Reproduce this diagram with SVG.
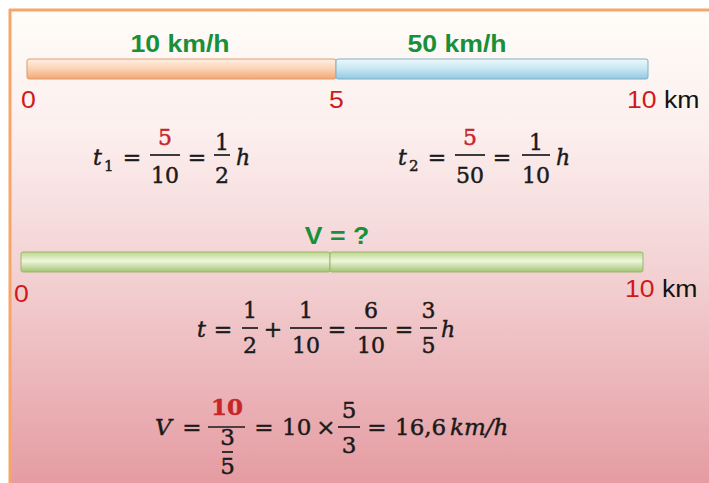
<svg xmlns="http://www.w3.org/2000/svg" width="709" height="483" viewBox="0 0 709 483">
<defs>
<linearGradient id="bg" x1="0" y1="0" x2="0" y2="1">
<stop offset="0" stop-color="#fffdf9"/>
<stop offset="0.25" stop-color="#fcefee"/>
<stop offset="0.55" stop-color="#f3d1d3"/>
<stop offset="1" stop-color="#e49aa0"/>
</linearGradient>
<linearGradient id="gOrange" x1="0" y1="0" x2="0" y2="1">
<stop offset="0" stop-color="#fef1e6"/>
<stop offset="0.5" stop-color="#fbd2b2"/>
<stop offset="1" stop-color="#f2a774"/>
</linearGradient>
<linearGradient id="gBlue" x1="0" y1="0" x2="0" y2="1">
<stop offset="0" stop-color="#eef8fc"/>
<stop offset="0.5" stop-color="#c7e6f2"/>
<stop offset="1" stop-color="#92c9df"/>
</linearGradient>
<linearGradient id="gGreen" x1="0" y1="0" x2="0" y2="1">
<stop offset="0" stop-color="#bcd78e"/>
<stop offset="0.45" stop-color="#eef6dc"/>
<stop offset="1" stop-color="#a3c472"/>
</linearGradient>
<style>
.lbl{font-family:"Liberation Sans",Arial,sans-serif;font-weight:bold;font-size:24px;fill:#18903a}
.num{font-family:"Liberation Sans",Arial,sans-serif;font-size:24px;fill:#d01a1a}
.km{fill:#111}
.m{font-family:"DejaVu Serif","Liberation Serif",serif;font-size:22px;fill:#1a1a1a;stroke:#1a1a1a;stroke-width:0.45}
.m4{font-family:"DejaVu Serif","Liberation Serif",serif;font-size:23px;fill:#1a1a1a;stroke:#1a1a1a;stroke-width:0.45}
.it{font-style:italic}
.c{text-anchor:middle}
.red{fill:#c8252a;stroke:#c8252a}
.sub{font-size:15px}
.fl{stroke:#1a1a1a;stroke-width:1.7}
</style>
</defs>
<rect x="0" y="0" width="709" height="483" fill="#ffffff"/>
<g id="panel">
<rect x="10" y="10" width="710" height="480" fill="url(#bg)"/>
<line x1="9" y1="10" x2="709" y2="10" stroke="#f7a66a" stroke-width="3"/>
<line x1="10" y1="9" x2="10" y2="483" stroke="#f7a66a" stroke-width="3"/>
</g>
<g id="bar1">
<rect x="27" y="59" width="309" height="20" rx="2" fill="url(#gOrange)" stroke="#e09a6c" stroke-width="1"/>
<rect x="336" y="59" width="312" height="20" rx="2" fill="url(#gBlue)" stroke="#7fb0c6" stroke-width="1"/>
<text class="lbl c" transform="translate(180 52) scale(1.11 1)">10 km/h</text>
<text class="lbl c" transform="translate(457 52) scale(1.11 1)">50 km/h</text>
<text class="num" transform="translate(21 108) scale(1.11 1)">0</text>
<text class="num" transform="translate(329 108) scale(1.11 1)">5</text>
<text class="num" transform="translate(627 108) scale(1.11 1)">10 <tspan class="km">km</tspan></text>
</g>
<g id="eq-t1">
<text class="m it" x="93" y="165">t</text>
<text class="m sub" x="104" y="171">1</text>
<text class="m c" x="132" y="165">=</text>
<line class="fl" x1="150" y1="155" x2="180" y2="155"/>
<text class="m c red" x="165" y="145">5</text>
<text class="m c" x="165" y="183">10</text>
<text class="m c" x="197" y="165">=</text>
<line class="fl" x1="214" y1="155" x2="230" y2="155"/>
<text class="m c" x="222" y="150">1</text>
<text class="m c" x="222" y="183">2</text>
<text class="m it" x="236" y="165">h</text>
</g>
<g id="eq-t2">
<text class="m it" x="398" y="165">t</text>
<text class="m sub" x="409" y="171">2</text>
<text class="m c" x="437" y="165">=</text>
<line class="fl" x1="455" y1="155" x2="485" y2="155"/>
<text class="m c red" x="470" y="145">5</text>
<text class="m c" x="470" y="183">50</text>
<text class="m c" x="502" y="165">=</text>
<line class="fl" x1="522" y1="155" x2="550" y2="155"/>
<text class="m c" x="536" y="150">1</text>
<text class="m c" x="536" y="183">10</text>
<text class="m it" x="556" y="165">h</text>
</g>
<g id="bar2">
<rect x="21" y="252" width="309" height="20" rx="2" fill="url(#gGreen)" stroke="#9bb56b" stroke-width="1"/>
<rect x="330" y="252" width="313" height="20" rx="2" fill="url(#gGreen)" stroke="#9bb56b" stroke-width="1"/>
<text class="lbl c" transform="translate(337 244) scale(1.11 1)">V = ?</text>
<text class="num" transform="translate(14 302) scale(1.11 1)">0</text>
<text class="num" transform="translate(625 297) scale(1.11 1)">10 <tspan class="km">km</tspan></text>
</g>
<g id="eq-t">
<text class="m it" x="197" y="337">t</text>
<text class="m c" x="223" y="337">=</text>
<line class="fl" x1="242" y1="328" x2="258" y2="328"/>
<text class="m c" x="250" y="318">1</text>
<text class="m c" x="250" y="353">2</text>
<text class="m c" x="273" y="337">+</text>
<line class="fl" x1="290" y1="328" x2="322" y2="328"/>
<text class="m c" x="306" y="318">1</text>
<text class="m c" x="306" y="353">10</text>
<text class="m c" x="337" y="337">=</text>
<line class="fl" x1="355" y1="328" x2="387" y2="328"/>
<text class="m c" x="371" y="318">6</text>
<text class="m c" x="371" y="353">10</text>
<text class="m c" x="404" y="337">=</text>
<line class="fl" x1="420" y1="328" x2="437" y2="328"/>
<text class="m c" x="428.5" y="318">3</text>
<text class="m c" x="428.5" y="353">5</text>
<text class="m it" x="441" y="337">h</text>
</g>
<g id="eq-v">
<text class="m4 it" x="155" y="435">V</text>
<text class="m4 c" x="192" y="435">=</text>
<line class="fl" x1="208" y1="427" x2="245" y2="427"/>
<text class="m4 c red" x="227" y="415" font-weight="bold" font-size="21">10</text>
<text class="m4 c" x="227.5" y="445" font-size="14">3</text>
<line class="fl" x1="222" y1="452" x2="233" y2="452" stroke-width="1.2"/>
<text class="m4 c" x="227.5" y="474" font-size="14">5</text>
<text class="m4 c" x="264" y="435">=</text>
<text class="m4" x="282" y="435">10</text>
<text class="m4 c" x="326" y="435">×</text>
<line class="fl" x1="338" y1="427" x2="360" y2="427"/>
<text class="m4 c" x="349" y="418">5</text>
<text class="m4 c" x="349" y="453">3</text>
<text class="m4 c" x="377" y="435">=</text>
<text class="m4" x="395" y="435">16,6</text>
<text class="m4 it" x="450" y="435">km/h</text>
</g>
</svg>
